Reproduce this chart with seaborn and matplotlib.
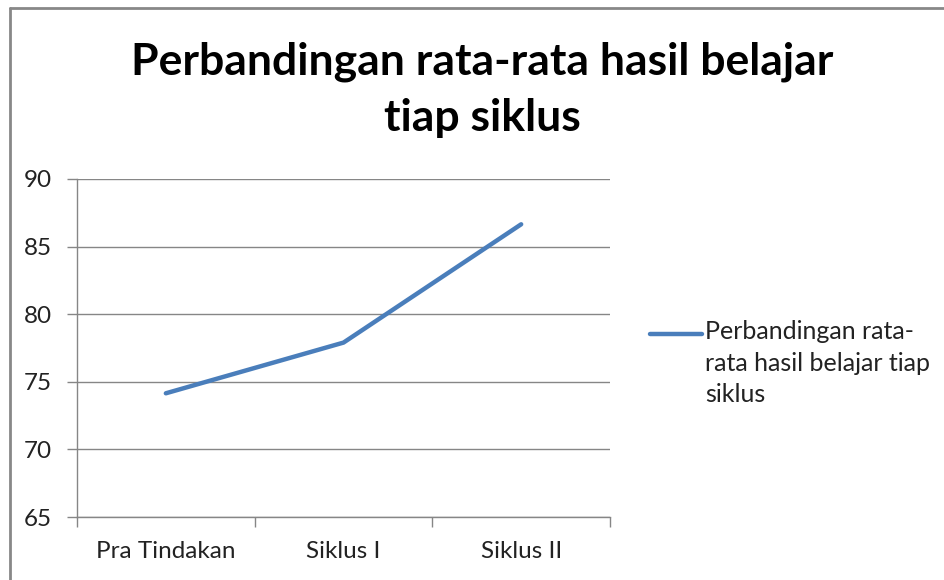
import matplotlib
matplotlib.use("Agg")
import matplotlib.pyplot as plt
import seaborn as sns
import pandas as pd
from matplotlib.lines import Line2D
from matplotlib.ticker import FixedLocator

categories = ["Pra Tindakan", "Siklus I", "Siklus II"]
values = [74.15, 77.9, 86.65]
series_name = "Perbandingan rata-rata hasil belajar tiap siklus"
y_ticks = [65, 70, 75, 80, 85, 90]

df = pd.DataFrame({"tahap": categories, "nilai": values})

sns.set_style("white")
plt.rcParams["font.family"] = ["Lato", "DejaVu Sans"]

fig = plt.figure(figsize=(9.45, 5.8), dpi=100)
ax = fig.add_axes([0.0815, 0.1086, 0.564, 0.5828])

blue = "#4A7EBB"
grey = "#868686"

sns.lineplot(data=df, x="tahap", y="nilai", ax=ax, color=blue, linewidth=3.2,
             sort=False, legend=False)

ax.set_xlim(-0.5, len(categories) - 0.5)
ax.set_ylim(y_ticks[0], y_ticks[-1])
ax.set_yticks(y_ticks)
ax.yaxis.grid(True, color=grey, linewidth=1)
ax.set_axisbelow(True)
ax.set_xlabel("")
ax.set_ylabel("")

# category labels centred, tick marks on the category boundaries
ax.set_xticks(range(len(categories)))
ax.set_xticklabels(categories)
ax.xaxis.set_minor_locator(FixedLocator([i - 0.5 for i in range(len(categories) + 1)]))
ax.tick_params(axis="x", which="major", length=0, pad=17, labelsize=17.5, colors="#222222")
ax.tick_params(axis="x", which="minor", length=7, width=1, color=grey, direction="out")
ax.tick_params(axis="y", length=7, width=1, color=grey, direction="out", pad=11,
               labelsize=17.5, labelcolor="#222222")
ax.xaxis.set_ticks_position("bottom")
ax.yaxis.set_ticks_position("left")

for side in ["top", "right"]:
    ax.spines[side].set_visible(False)
for side in ["left", "bottom"]:
    ax.spines[side].set_color(grey)
    ax.spines[side].set_linewidth(1)

fig.text(0.51, 1 - 62 / 580, "Perbandingan rata-rata hasil belajar", ha="center", va="center",
         fontsize=32, fontweight="bold", color="black")
fig.text(0.51, 1 - 118 / 580, "tiap siklus", ha="center", va="center",
         fontsize=32, fontweight="bold", color="black")

# legend entry in the Excel style: swatch beside the first line of text
fig.add_artist(Line2D([650 / 945, 702 / 945], [1 - 334 / 580, 1 - 334 / 580],
                      color=blue, linewidth=3.2, solid_capstyle="round"))
fig.text(705 / 945, 1 - 320 / 580, "Perbandingan rata-\nrata hasil belajar tiap\nsiklus",
         ha="left", va="top", fontsize=18, linespacing=1.45, color="#222222")

# chart frame (only left and top edges are visible in the crop)
fig.add_artist(Line2D([10 / 945, 10 / 945], [0, 1 - 8 / 580], color="#888888", linewidth=2))
fig.add_artist(Line2D([10 / 945, 1], [1 - 8 / 580, 1 - 8 / 580], color="#888888", linewidth=2))

fig.savefig("out.png", dpi=100)
